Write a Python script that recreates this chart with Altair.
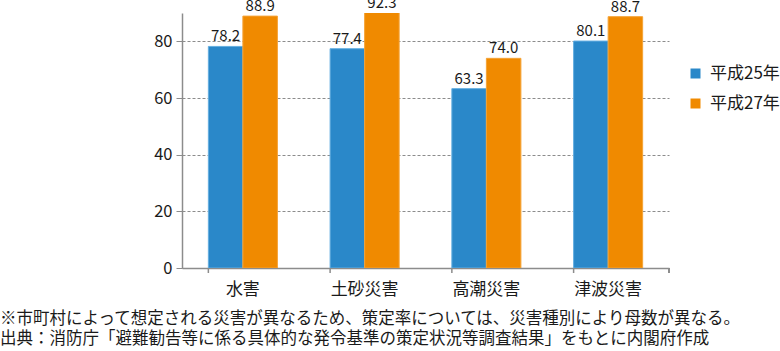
import altair as alt
import pandas as pd

categories = ["水害", "土砂災害", "高潮災害", "津波災害"]
series = ["平成25年", "平成27年"]
values_h25 = [78.2, 77.4, 63.3, 80.1]
values_h27 = [88.9, 92.3, 74.0, 88.7]
y_ticks = [0, 20, 40, 60, 80]
y_max = 90
note_lines = [
    "※市町村によって想定される災害が異なるため、策定率については、災害種別により母数が異なる。",
    "出典：消防庁「避難勧告等に係る具体的な発令基準の策定状況等調査結果」をもとに内閣府作成",
]

rows = []
for c, a, b in zip(categories, values_h25, values_h27):
    rows.append({"cat": c, "series": series[0], "value": a})
    rows.append({"cat": c, "series": series[1], "value": b})
df = pd.DataFrame(rows)
ticks_df = pd.DataFrame({"cat": categories})

FONT = "Noto Sans CJK JP"
TXT = "#1a1a1a"
GRAY = "#8c8c8c"
BLUE = "#2a88c9"
ORANGE = "#f08a00"
W, H = 487, 255

xscale = alt.Scale(domain=categories, paddingInner=0.433, paddingOuter=0.2165)

base = alt.Chart(df)

bars = base.mark_bar(clip=True, strokeWidth=1).encode(
    x=alt.X("cat:N", sort=categories, scale=xscale,
            axis=alt.Axis(title=None, ticks=False, labelAngle=0, labelFontSize=17,
                          labelFont=FONT, labelColor=TXT, labelPadding=13,
                          domainColor=GRAY, domainWidth=1.5)),
    xOffset=alt.XOffset("series:N", sort=series),
    y=alt.Y("value:Q", scale=alt.Scale(domain=[0, y_max], nice=False),
            axis=alt.Axis(title=None, values=y_ticks, grid=True, gridDash=[3, 2],
                          gridColor=GRAY, gridWidth=1, domainColor=GRAY, domainWidth=1.5,
                          tickColor=GRAY, tickSize=6, labelFontSize=16.5, labelFont=FONT,
                          labelColor=TXT, labelPadding=4)),
    color=alt.Color("series:N", sort=series,
                    scale=alt.Scale(domain=series, range=[BLUE, ORANGE]),
                    legend=alt.Legend(title=None, orient="none", legendX=505, legendY=52,
                                      symbolType="square", symbolSize=100, symbolStrokeWidth=0,
                                      labelFontSize=17, labelFont=FONT, labelColor=TXT,
                                      labelOffset=6, rowPadding=12)),
    stroke=alt.Stroke("series:N", sort=series,
                      scale=alt.Scale(domain=series, range=["#64aee0", "#f5a335"]),
                      legend=None),
)

labels = base.transform_calculate(
    ly=f"min(datum.value, {y_max})"
).mark_text(baseline="alphabetic", dy=-5, fontSize=15, font=FONT, color=TXT).encode(
    x=alt.X("cat:N", sort=categories, scale=xscale),
    xOffset=alt.XOffset("series:N", sort=series),
    y=alt.Y("ly:Q"),
    text=alt.Text("value:Q", format=".1f"),
)

xticks = alt.Chart(ticks_df).mark_rule(color=GRAY, strokeWidth=1.5).encode(
    x=alt.X("cat:N", sort=categories, scale=xscale, bandPosition=0),
    y=alt.value(H),
    y2=alt.value(H + 5),
)
xtick_end = alt.Chart(ticks_df).mark_rule(color=GRAY, strokeWidth=1.5).encode(
    x=alt.value(W), y=alt.value(H), y2=alt.value(H + 5)
)

chart = alt.layer(bars, labels, xticks, xtick_end).properties(
    width=W, height=H,
    padding={"left": 182, "top": 13, "right": 780 - 182 - W, "bottom": 351 - 13 - H},
    autosize=alt.AutoSizeParams(type="none"),
    title=alt.TitleParams(text=note_lines, orient="bottom", anchor="start", frame="group",
                          dx=-182, offset=14, fontSize=16.5, lineHeight=20, font=FONT,
                          fontWeight="normal", color=TXT),
).configure_view(stroke=None).configure_scale(bandWithNestedOffsetPaddingInner=0)

chart.save("out.html", embed_options={"renderer": "svg", "actions": False})
